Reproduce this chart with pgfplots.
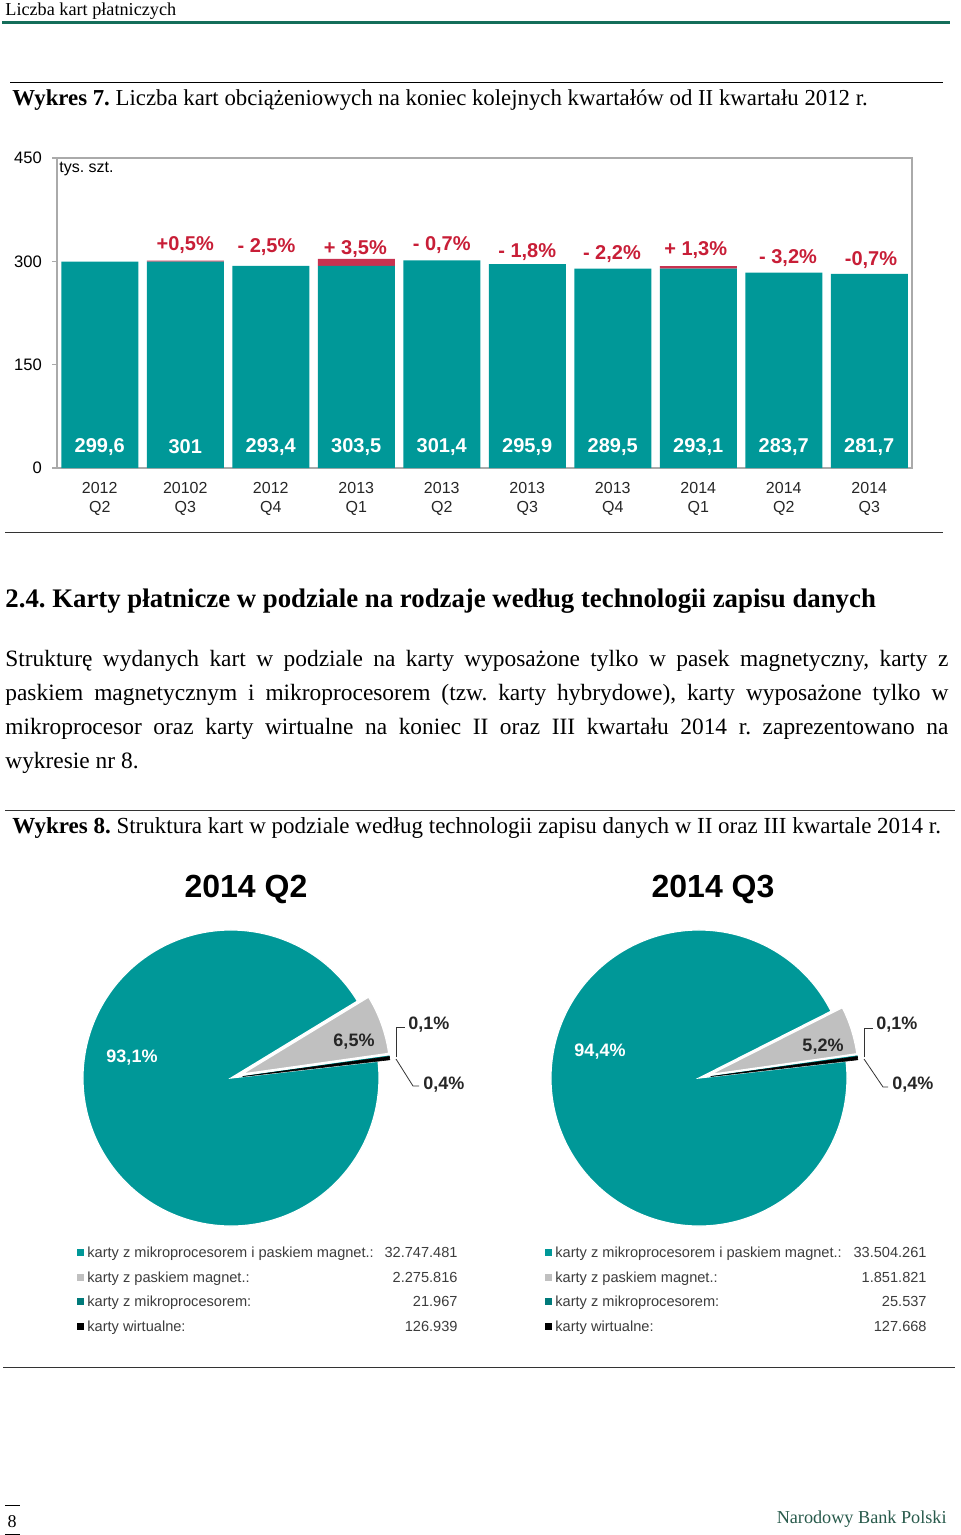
\documentclass[border=0pt]{standalone}
\usepackage{pgfplots}
\pgfplotsset{compat=1.18}
\usepackage{pgfplotstable}
\usepackage{fontspec}
\setmainfont{Liberation Serif}
\newfontfamily\arial{Liberation Sans}
\frenchspacing
\definecolor{barteal}{RGB}{0,152,152}
\definecolor{barred}{RGB}{200,50,80}
\definecolor{lblred}{RGB}{200,30,55}
\definecolor{nbpgreen}{RGB}{20,110,90}
\definecolor{nbptext}{RGB}{40,90,75}
\definecolor{axgray}{RGB}{170,170,170}
\definecolor{piegray}{RGB}{192,192,192}
\definecolor{lgtext}{RGB}{60,60,60}
\tikzset{
  vallbl/.style={font=\arial\bfseries\fontsize{10}{12}\selectfont, text=white},
  pctlbl/.style={font=\arial\bfseries\fontsize{10}{12}\selectfont, text=lblred},
  lgd/.style={inner sep=0, font=\arial\fontsize{7.3}{9}\selectfont, text=lgtext},
  pielbl/.style={font=\arial\bfseries\fontsize{9}{11}\selectfont},
}

% Bar chart data: teal base and red increase (tys. szt.)
\pgfplotstableread{
x base inc
0 299.6 0
1 299.6 1.4
2 293.4 0
3 293.4 10.1
4 301.4 0
5 295.9 0
6 289.5 0
7 289.5 3.6
8 283.7 0
9 281.7 0
}\bardata

% Pie data (order: hybrid, magnetic stripe, chip only, virtual)
\pgfplotstableread{
kind count
hybrid 32747481
mag 2275816
chip 21967
virt 126939
}\pieQtwo
\pgfplotstableread{
kind count
hybrid 33504261
mag 1851821
chip 25537
virt 127668
}\pieQthree

\newcommand\piecalc[1]{%
  \pgfplotstablegetelem{0}{count}\of#1\edef\pH{\pgfplotsretval}%
  \pgfplotstablegetelem{1}{count}\of#1\edef\pM{\pgfplotsretval}%
  \pgfplotstablegetelem{2}{count}\of#1\edef\pC{\pgfplotsretval}%
  \pgfplotstablegetelem{3}{count}\of#1\edef\pV{\pgfplotsretval}%
  \edef\pT{\fpeval{\pH+\pM+\pC+\pV}}%
  \edef\angA{6.5}%
  \edef\angB{\fpeval{round(6.5+\pV/\pT*360,4)}}%
  \edef\angC{\fpeval{round(6.5+(\pV+\pC)/\pT*360,4)}}%
  \edef\angD{\fpeval{round(6.5+(\pV+\pC+\pM)/\pT*360,4)}}%
  \edef\angE{366.5}%
  \edef\mV{\fpeval{(\angA+\angB)/2}}\edef\mC{\fpeval{(\angB+\angC)/2}}\edef\mM{\fpeval{(\angC+\angD)/2}}%
  \edef\vxx{\fpeval{round(0.08*cosd(\mV),5)}}\edef\vyy{\fpeval{round(0.08*sind(\mV),5)}}%
  \edef\cxx{\fpeval{round(0.08*cosd(\mC),5)}}\edef\cyy{\fpeval{round(0.08*sind(\mC),5)}}%
  \edef\mxx{\fpeval{round(0.08*cosd(\mM),5)}}\edef\myy{\fpeval{round(0.08*sind(\mM),5)}}%
}

\newcommand\drawpie{%
  \fill[barteal, draw=white, line width=0.6pt] (axis cs:0,0) -- (axis cs:{cos(\angD)},{sin(\angD)}) arc[start angle=\angD, end angle=\angE, radius=74pt] -- cycle;
  \fill[piegray, draw=white, line width=0.6pt] (axis cs:\mxx,\myy) -- (axis cs:{\mxx+cos(\angC)},{\myy+sin(\angC)}) arc[start angle=\angC, end angle=\angD, radius=74pt] -- cycle;
  \fill[barteal, draw=barteal, line width=0.2pt] (axis cs:\cxx,\cyy) -- (axis cs:{\cxx+cos(\angB)},{\cyy+sin(\angB)}) arc[start angle=\angB, end angle=\angC, radius=74pt] -- cycle;
  \fill[black, draw=black, line width=0.3pt] (axis cs:\vxx,\vyy) -- (axis cs:{\vxx+cos(\angA)},{\vyy+sin(\angA)}) arc[start angle=\angA, end angle=\angB, radius=74pt] -- cycle;
}

\begin{document}
\begin{tikzpicture}
\begin{scope}[x=0.5pt,y=-0.5pt]
% header
\node[anchor=base west,inner sep=0,font=\fontsize{9.1}{11}\selectfont] at (5,16) {Liczba kart płatniczych};
\draw[nbpgreen,line width=1.5pt] (2,23) -- (950,23);
\draw[black,line width=0.5pt] (10,83) -- (943,83);
\node[anchor=base west,inner sep=0,font=\fontsize{11.4}{13}\selectfont] at (12,106) {\textbf{Wykres 7.} Liczba kart obciążeniowych na koniec kolejnych kwartałów od II kwartału 2012 r.};
\node[anchor=west,inner sep=0,font=\arial\fontsize{8}{9}\selectfont] at (59,169) {tys. szt.};
\draw[black!80,line width=0.5pt] (5,532) -- (943,532);
% section text
\node[anchor=base west,inner sep=0,font=\bfseries\fontsize{13.4}{15}\selectfont] at (5,607) {2.4. Karty płatnicze w podziale na rodzaje według technologii zapisu danych};
\node[anchor=base west,inner sep=0,font=\fontsize{11.7}{14}\selectfont] at (5,666) {\makebox[471.5pt][s]{Strukturę wydanych kart w podziale na karty wyposażone tylko w pasek magnetyczny, karty z}};
\node[anchor=base west,inner sep=0,font=\fontsize{11.7}{14}\selectfont] at (5,700) {\makebox[471.5pt][s]{paskiem magnetycznym i mikroprocesorem (tzw. karty hybrydowe), karty wyposażone tylko w}};
\node[anchor=base west,inner sep=0,font=\fontsize{11.7}{14}\selectfont] at (5,734) {\makebox[471.5pt][s]{mikroprocesor oraz karty wirtualne na koniec II oraz III kwartału 2014 r. zaprezentowano na}};
\node[anchor=base west,inner sep=0,font=\fontsize{11.7}{14}\selectfont] at (5,768) {wykresie nr 8.};
\draw[black!80,line width=0.5pt] (5,810) -- (955,810);
\node[anchor=base west,inner sep=0,font=\fontsize{11.5}{13}\selectfont] at (12,833) {\textbf{Wykres 8.} Struktura kart w podziale według technologii zapisu danych w II oraz III kwartale 2014 r.};
\node[font=\arial\bfseries\fontsize{16}{19}\selectfont] at (246,889) {2014 Q2};
\node[font=\arial\bfseries\fontsize{16}{19}\selectfont] at (713,889) {2014 Q3};
\draw[black!80,line width=0.5pt] (3,1367) -- (955,1367);
% footer
\draw[black,line width=0.4pt] (5,1505) -- (20,1505);
\draw[black,line width=0.4pt] (5,1534) -- (20,1534);
\node[anchor=base,inner sep=0,font=\fontsize{9}{10}\selectfont] at (12,1527) {8};
\node[anchor=base east,inner sep=0,text=nbptext,font=\fontsize{9.1}{10}\selectfont] at (947,1523) {Narodowy Bank Polski};
\end{scope}

% ---------------- bar chart ----------------
\begin{axis}[
  at={(28.5pt,-234pt)}, anchor=south west,
  width=427.5pt, height=155pt, scale only axis,
  xmin=-0.5, xmax=9.5, ymin=0, ymax=450,
  ybar stacked, bar width=38.5pt,
  axis line style={axgray, line width=0.6pt},
  tick align=outside, tick pos=left,
  ytick={0,150,300,450},
  major tick length=2.5pt,
  tick style={axgray, line width=0.6pt},
  /pgf/number format/assume math mode=true,
  yticklabel style={font=\arial\fontsize{8.3}{9}\selectfont, text=black, xshift=-1.5pt},
  xtick={0,...,9},
  xticklabels={{2012\\Q2},{20102\\Q3},{2012\\Q4},{2013\\Q1},{2013\\Q2},{2013\\Q3},{2013\\Q4},{2014\\Q1},{2014\\Q2},{2014\\Q3}},
  xticklabel style={align=center, font=\arial\fontsize{8}{9.5}\selectfont, text=black!85, yshift=-1pt},
  x tick style={draw=none},
  minor xtick={-0.5,0.5,...,9.5},
  minor x tick style={axgray, line width=0.6pt},
  minor tick length=2.5pt,
  clip=false,
]
\addplot[fill=barteal, draw=none] table[x=x, y=base] {\bardata};
\addplot[fill=barred, draw=none] table[x=x, y=inc] {\bardata};
\node[pctlbl] at (axis cs:1,323.7) {+0,5\%};
\node[pctlbl] at (axis cs:1.95,320.8) {- 2,5\%};
\node[pctlbl] at (axis cs:2.99,317.9) {+ 3,5\%};
\node[pctlbl] at (axis cs:4,323.7) {- 0,7\%};
\node[pctlbl] at (axis cs:5,313.5) {- 1,8\%};
\node[pctlbl] at (axis cs:5.99,310.6) {- 2,2\%};
\node[pctlbl] at (axis cs:6.97,316.5) {+ 1,3\%};
\node[pctlbl] at (axis cs:8.05,304.8) {- 3,2\%};
\node[pctlbl] at (axis cs:9.02,301.9) {-0,7\%};
\end{axis}

% value labels inside the bars (drawn above the bars)
\begin{scope}[x=0.5pt,y=-0.5pt]
\node[vallbl] at (99.75,447) {299,6};
\node[vallbl] at (185.25,447) {301};
\node[vallbl] at (270.75,447) {293,4};
\node[vallbl] at (356.25,447) {303,5};
\node[vallbl] at (441.75,447) {301,4};
\node[vallbl] at (527.25,447) {295,9};
\node[vallbl] at (612.75,447) {289,5};
\node[vallbl] at (698.25,447) {293,1};
\node[vallbl] at (783.75,447) {283,7};
\node[vallbl] at (869.25,447) {281,7};
\end{scope}

% ---------------- pie 2014 Q2 ----------------
\piecalc{\pieQtwo}
\begin{axis}[
  at={(115.5pt,-539pt)}, anchor=center,
  x=74pt, y=74pt, xmin=-1, xmax=1, ymin=-1, ymax=1,
  hide axis, clip=false,
]
\drawpie
\end{axis}

% ---------------- pie 2014 Q3 ----------------
\piecalc{\pieQthree}
\begin{axis}[
  at={(349.5pt,-539pt)}, anchor=center,
  x=74pt, y=74pt, xmin=-1, xmax=1, ymin=-1, ymax=1,
  hide axis, clip=false,
]
\drawpie
\end{axis}

% ---------------- pie labels and legends ----------------
\begin{scope}[x=0.5pt,y=-0.5pt]
\node[pielbl,text=white] at (132,1058) {93,1\%};
\node[pielbl,text=black!85] at (354,1042) {6,5\%};
\node[pielbl,text=white] at (600,1052) {94,4\%};
\node[pielbl,text=black!85] at (823,1047) {5,2\%};
\node[pielbl,text=black!85,anchor=west,inner sep=1pt] at (406,1025) {0,1\%};
\node[pielbl,text=black!85,anchor=west,inner sep=1pt] at (421,1085) {0,4\%};
\node[pielbl,text=black!85,anchor=west,inner sep=1pt] at (874,1025) {0,1\%};
\node[pielbl,text=black!85,anchor=west,inner sep=1pt] at (890,1085) {0,4\%};
\draw[black!80,line width=0.4pt] (396,1057) -- (396,1027) -- (405,1027);
\draw[black!80,line width=0.4pt] (396,1059) -- (413,1086) -- (419,1086);
\draw[black!80,line width=0.4pt] (864,1057) -- (864,1028) -- (873,1028);
\draw[black!80,line width=0.4pt] (864,1059) -- (883,1087) -- (888,1087);
% legends
\foreach \lx/\nx/\na/\nb/\nc/\nd in {80/458/32.747.481/2.275.816/21.967/126.939, 548/927/33.504.261/1.851.821/25.537/127.668}{
  \fill[barteal] (\lx-3.5,1252-3.5) rectangle (\lx+3.5,1252+3.5);
  \fill[piegray] (\lx-3.5,1277-3.5) rectangle (\lx+3.5,1277+3.5);
  \fill[barteal!80!black] (\lx-3.5,1301-3.5) rectangle (\lx+3.5,1301+3.5);
  \fill[black] (\lx-3.5,1326-3.5) rectangle (\lx+3.5,1326+3.5);
  \node[lgd,anchor=base west] at (\lx+7,1257) {karty z mikroprocesorem i paskiem magnet.:};
  \node[lgd,anchor=base west] at (\lx+7,1282) {karty z paskiem magnet.:};
  \node[lgd,anchor=base west] at (\lx+7,1306) {karty z mikroprocesorem:};
  \node[lgd,anchor=base west] at (\lx+7,1331) {karty wirtualne:};
  \node[lgd,anchor=base east] at (\nx,1257) {\na};
  \node[lgd,anchor=base east] at (\nx,1282) {\nb};
  \node[lgd,anchor=base east] at (\nx,1306) {\nc};
  \node[lgd,anchor=base east] at (\nx,1331) {\nd};
}
\end{scope}
\pgfresetboundingbox
\path (0pt,0pt) rectangle (480pt,-767.5pt);
\end{tikzpicture}
\end{document}
